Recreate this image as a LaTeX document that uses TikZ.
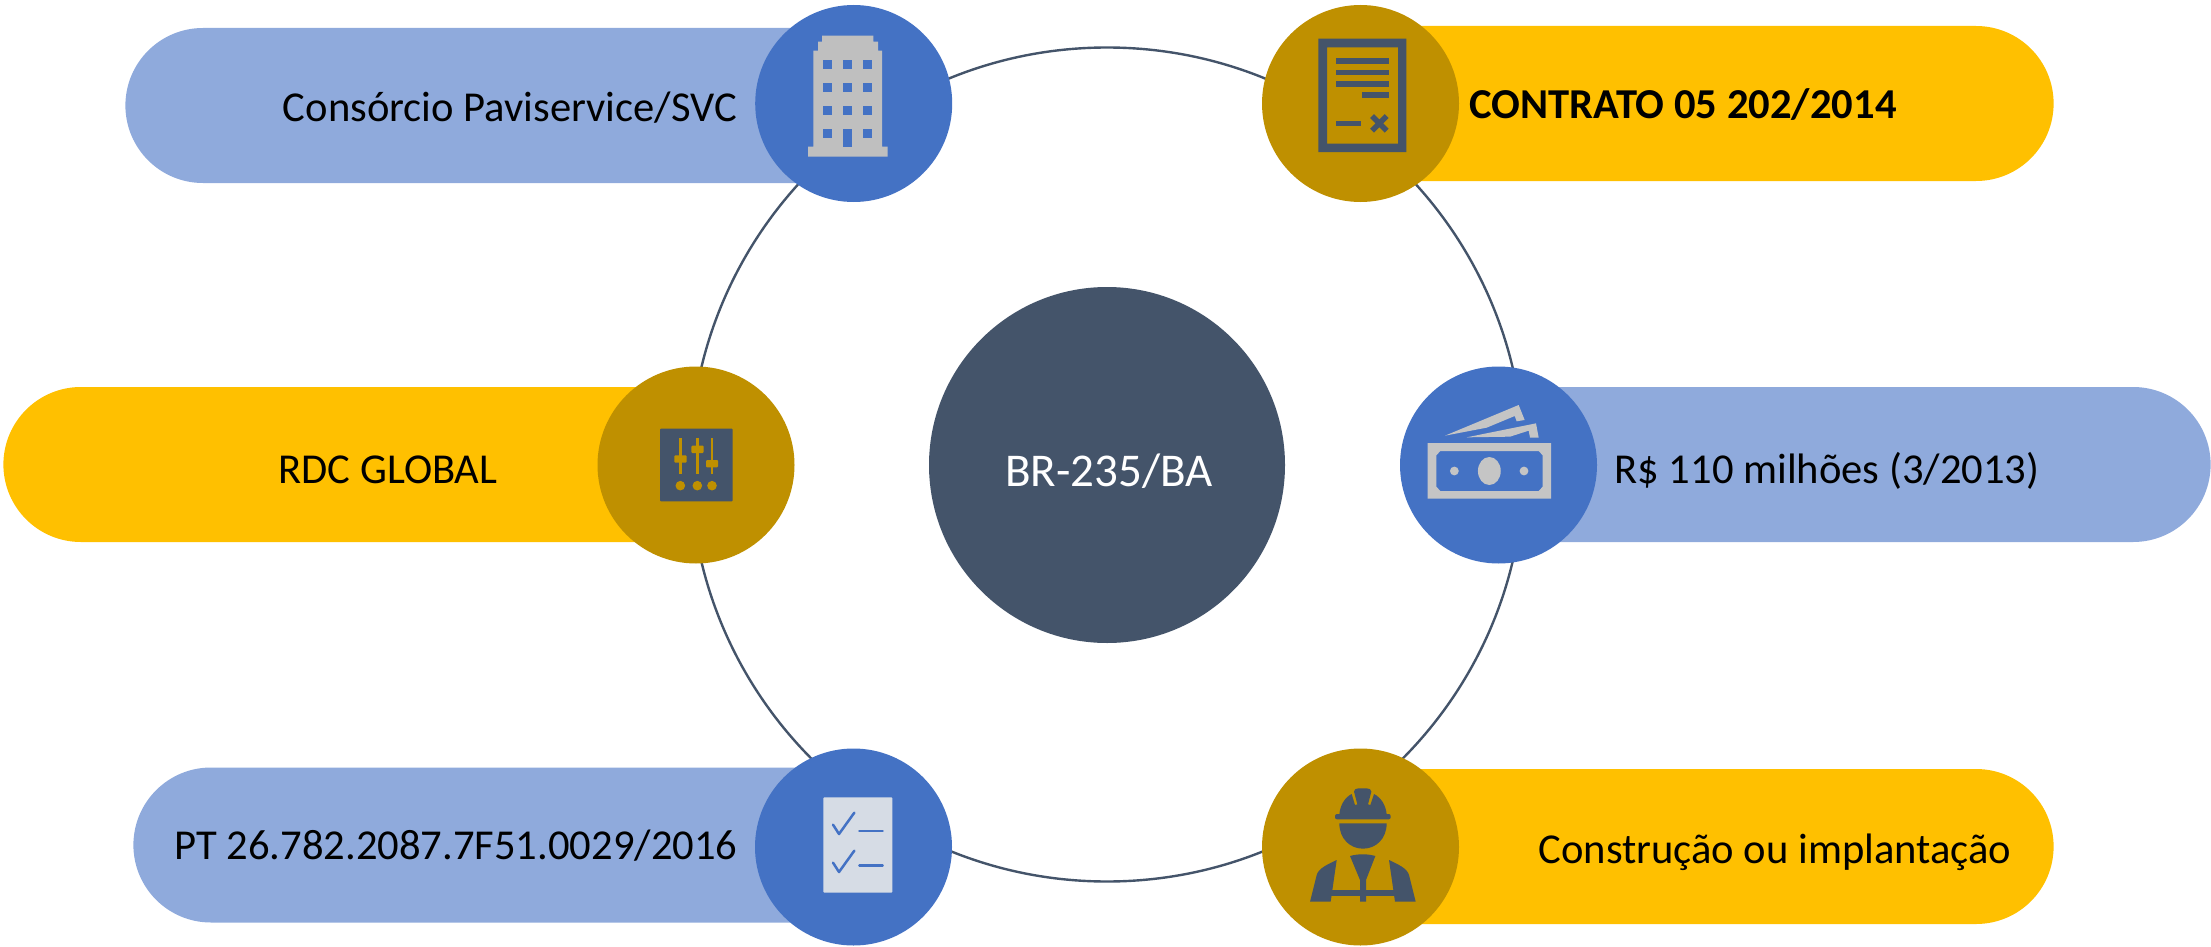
\documentclass[tikz,border=0pt]{standalone}
\usepackage{fontspec}
\setmainfont{Carlito}
\definecolor{bluedark}{HTML}{4472C4}
\definecolor{bluelight}{HTML}{8FAADC}
\definecolor{golddark}{HTML}{BF9000}
\definecolor{goldlight}{HTML}{FFC000}
\definecolor{slate}{HTML}{44546A}
\definecolor{icongrey}{HTML}{BFBFBF}
\definecolor{paper}{HTML}{D6DCE5}
\tikzset{
  hub/.style={circle,draw=none,inner sep=0pt,minimum size=98.5pt},
  pill/.style={draw=none,rounded corners=38.75pt,inner sep=0pt,minimum height=77.5pt},
  lbl/.style={font=\fontsize{21.3pt}{25pt}\selectfont,anchor=base,inner sep=0pt,text=black},
  zoomed/.style={x=0.166667pt,y=-0.166667pt},
}
\begin{document}
\begin{tikzpicture}[x=0.5pt,y=-0.5pt]
\useasboundingbox (0,0) rectangle (2211,947);
% ring
\node[circle,draw=slate,line width=1.2pt,minimum size=417pt,inner sep=0pt] (ring) at (1107,464.5) {};
% pills
\node[pill,fill=bluelight,minimum width=403pt,anchor=west] (p1) at (125,105.5) {};
\node[pill,fill=goldlight,minimum width=385.5pt,anchor=east] (p2) at (2054,103.5) {};
\node[pill,fill=goldlight,minimum width=385pt,anchor=west] (p3) at (3,464.5) {};
\node[pill,fill=bluelight,minimum width=395pt,anchor=east] (p4) at (2211,464.5) {};
\node[pill,fill=bluelight,minimum width=399pt,anchor=west] (p5) at (133,845) {};
\node[pill,fill=goldlight,minimum width=385.5pt,anchor=east] (p6) at (2054,846.5) {};
% circles
\node[circle,fill=slate,minimum size=178pt,inner sep=0pt] (center) at (1107,465) {};
\node[hub,fill=bluedark] (c1) at (853.7,103.5) {};
\node[hub,fill=golddark] (c2) at (1360.5,103.5) {};
\node[hub,fill=golddark] (c3) at (696,465) {};
\node[hub,fill=bluedark] (c4) at (1498.5,465) {};
\node[hub,fill=bluedark] (c5) at (853.5,847) {};
\node[hub,fill=golddark] (c6) at (1360.5,847) {};
% labels
\node[lbl] (t1) at (510,121) {Consórcio Paviservice/SVC};
\node[lbl,font=\fontsize{21.3pt}{25pt}\selectfont\bfseries] (t2) at (1683,119) {CONTRATO 05 202/2014};
\node[lbl] (t3) at (388,483) {RDC GLOBAL};
\node[lbl] (t4) at (1827,483) {R\$ 110 milhões (3/2013)};
\node[lbl] (t5) at (456,859) {PT 26.782.2087.7F51.0029/2016};
\node[lbl] (t6) at (1775,863) {Construção ou implantação};
\node[lbl,text=white,font=\fontsize{23.5pt}{27pt}\selectfont] (t7) at (1109,486) {BR-235/BA};
% building
\begin{scope}[shift={(740,0)},zoomed]
\fill[icongrey] (204,470) -- (204,440) -- (220,440) -- (220,152) -- (234,152) -- (234,125) -- (246,125) -- (246,107) -- (400,107) -- (400,125) -- (414,125) -- (414,152) -- (426,152) -- (426,440) -- (443,440) -- (443,470) -- cycle;
\foreach \px/\py in {250/180,310/180,370/180,250/250,310/250,370/250,250/319,310/319,370/319,250/387,370/387}
  \fill[bluedark] (\px,\py) rectangle ++(27,27);
\fill[bluedark] (310,387) rectangle (336,440);
\end{scope}
% contract
\begin{scope}[shift={(1250,0)},zoomed]
\fill[slate,even odd rule] (205,116) rectangle (469,456) (231,142) rectangle (444,431);
\fill[slate] (257,175) rectangle (417,191);
\fill[slate] (257,210) rectangle (417,226);
\fill[slate] (257,244) rectangle (417,260);
\fill[slate] (336,277) rectangle (417,293);
\fill[slate] (257,362) rectangle (333,379);
\draw[slate,line width=2.7pt] (366,348) -- (410,392) (410,348) -- (366,392);
\end{scope}
% mixer
\begin{scope}[shift={(590,360)},zoomed]
\fill[slate,rounded corners=0.5pt] (210,206) rectangle (428,424);
\fill[golddark] (268,234) rectangle (275,341);
\fill[golddark] (319,234) rectangle (326,341);
\fill[golddark] (363,234) rectangle (369,341);
\fill[golddark,rounded corners=0.5pt] (253,286) rectangle (290,308);
\fill[golddark,rounded corners=0.5pt] (304,257) rectangle (341,279);
\fill[golddark,rounded corners=0.5pt] (348,300) rectangle (384,322);
\fill[golddark] (271,377) circle[radius=2.4pt];
\fill[golddark] (322,377) circle[radius=2.4pt];
\fill[golddark] (366,377) circle[radius=2.4pt];
\end{scope}
% money
\begin{scope}[shift={(1390,360)},zoomed]
\fill[icongrey!90!white,even odd rule] (113,249) rectangle (483,416)
  (151,273) -- (446,273) -- (458,286) -- (458,380) -- (446,393) -- (151,393) -- (139,380) -- (139,286) -- cycle;
\fill[icongrey!90!white] (298,333) ellipse[x radius=5.7pt,y radius=7pt];
\fill[icongrey!90!white] (193,333) circle[radius=2.2pt];
\fill[icongrey!90!white] (402,333) circle[radius=2.2pt];
\fill[icongrey!90!white] (165,227) -- (386,135) -- (404,180) -- (380,184) -- (374,168) -- (290,203) -- cycle;
\fill[icongrey!90!white] (230,232) -- (438,190) -- (446,233) -- (420,233) -- (416,212) -- (360,230) -- cycle;
\end{scope}
% checklist
\begin{scope}[shift={(750,740)},zoomed]
\fill[paper,rounded corners=0.5pt] (220,172) rectangle (427,458);
\draw[bluedark,line width=1.25pt,line cap=round,line join=round] (249,254) -- (267,282) -- (313,218);
\draw[bluedark,line width=1.25pt,line cap=round,line join=round] (249,368) -- (267,396) -- (313,332);
\draw[bluedark,line width=1.25pt,line cap=round] (328,273) -- (398,273);
\draw[bluedark,line width=1.25pt,line cap=round] (328,377) -- (398,377);
\end{scope}
% worker
\begin{scope}[shift={(1250,740)},zoomed]
\fill[slate,rounded corners=1pt] (255,222) rectangle (422,238);
\fill[slate] (268,224) .. controls (270,195) and (285,172) .. (305,162) -- (315,195) -- (322,193) -- (312,155) .. controls (312,148) and (318,145) .. (325,145) -- (350,145) .. controls (358,145) and (364,148) .. (364,155) -- (354,193) -- (361,195) -- (372,162) .. controls (392,172) and (408,195) .. (410,224) -- cycle;
\fill[slate] (268,250) -- (410,250) .. controls (410,296) and (378,326) .. (339,326) .. controls (300,326) and (268,296) .. (268,250) -- cycle;
\fill[slate] (300,348) .. controls (325,341) and (351,341) .. (376,348) -- (348,420) -- (348,485) -- (330,485) -- (330,420) -- cycle;
\fill[slate] (260,360) -- (242,485) -- (180,485) -- (200,405) .. controls (205,385) and (235,372) .. (260,360) -- cycle;
\fill[slate] (417,360) -- (435,485) -- (497,485) -- (477,405) .. controls (472,385) and (442,372) .. (417,360) -- cycle;
\fill[slate] (242,450) rectangle (435,467);
\end{scope}
\end{tikzpicture}
\end{document}
